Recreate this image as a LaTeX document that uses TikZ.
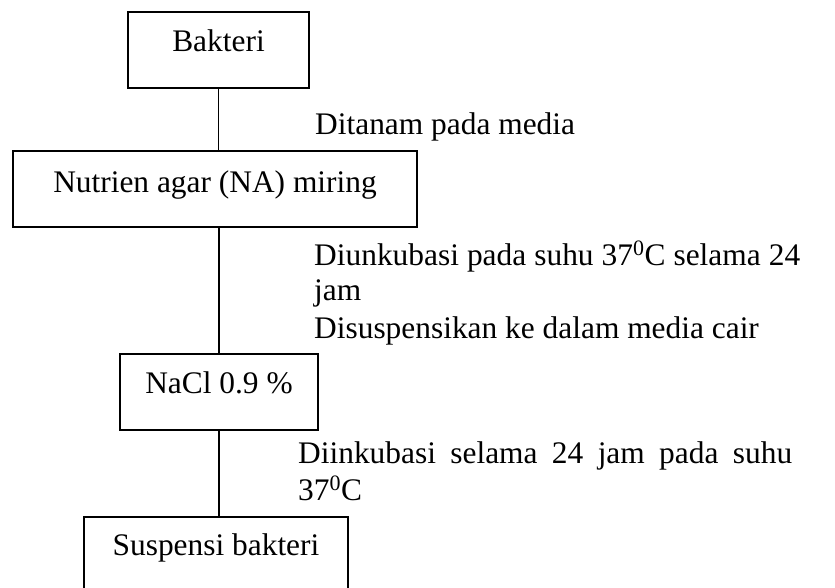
\documentclass[tikz,border=0pt]{standalone}
\usepackage{fontspec}
\setmainfont{Liberation Serif}
\begin{document}
\begin{tikzpicture}[x=1pt,y=-1pt,
  every node/.style={font=\fontsize{31.4}{36}\selectfont},
  box/.style={draw, line width=1.6pt, inner xsep=0pt, inner ysep=0pt, anchor=base, align=center},
  lbl/.style={inner sep=0pt, anchor=base west},
  conn/.style={line width=1.6pt}]
\useasboundingbox (0,0) rectangle (835,588);
\clip (0,0) rectangle (835,588);
\node[box, minimum width=181pt, text height=40pt, text depth=36pt] (b1) at (218.5,52) {Bakteri};
\node[box, minimum width=404pt, text height=42pt, text depth=34pt] (b2) at (215,193) {Nutrien agar (NA) miring};
\node[box, minimum width=198pt, text height=39pt, text depth=37pt] (b3) at (219,393) {NaCl 0.9 \%};
\node[box, minimum width=264pt, text height=38pt, text depth=60pt] (b4) at (216,555) {Suspensi bakteri};
\draw[conn] (b1.south) -- (b1.south |- b2.north);
\draw[conn] (b3.north) -- (b3.north |- b2.south);
\draw[conn] (b3.south) -- (b3.south |- b4.north);
\node[lbl] (t1) at (315,135) {Ditanam pada media};
\node[lbl] (t2) at (314,265) {\makebox[486pt][s]{Diunkubasi pada suhu 37\textsuperscript{0}C selama 24}};
\node[lbl] (t3) at (314,300) {jam};
\node[lbl] (t4) at (314,338) {Disuspensikan ke dalam media cair};
\node[lbl] (t5) at (298,463) {\makebox[494pt][s]{Diinkubasi selama 24 jam pada suhu}};
\node[lbl] (t6) at (298,500) {37\textsuperscript{0}C};
\end{tikzpicture}
\end{document}
